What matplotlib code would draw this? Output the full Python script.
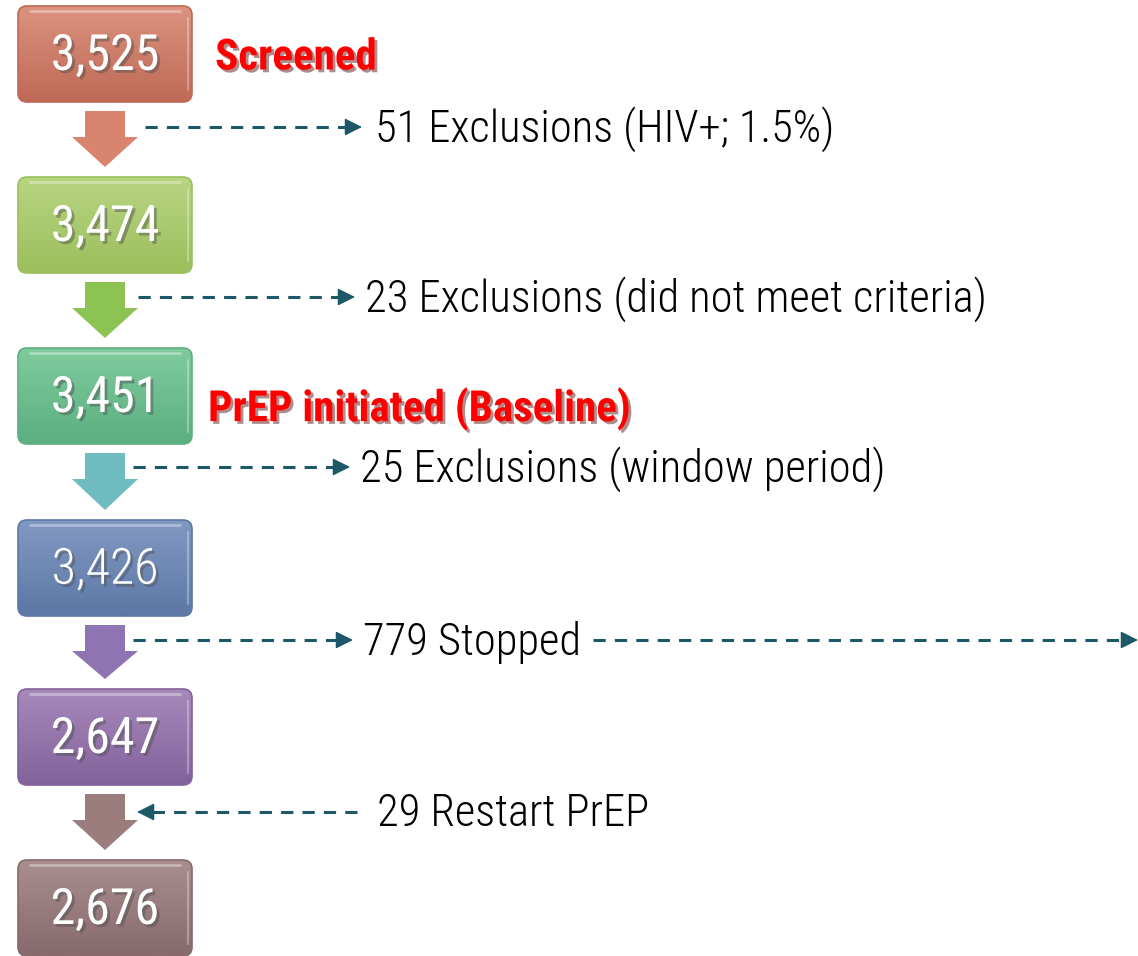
import numpy as np
import matplotlib
matplotlib.use("Agg")
import matplotlib.pyplot as plt
import matplotlib.patheffects as pe
from matplotlib.patches import FancyBboxPatch, Polygon
from matplotlib.colors import to_rgb

# data ---------------------------------------------------------------------------
counts = ["3,525", "3,474", "3,451", "3,426", "2,647", "2,676"]
stage_labels = {0: "Screened", 2: "PrEP initiated (Baseline)"}
flow_texts = ["51 Exclusions (HIV+; 1.5%)",
              "23 Exclusions (did not meet criteria)",
              "25 Exclusions (window period)",
              "779 Stopped",
              "29 Restart PrEP"]
flow_out = [True, True, True, True, False]   # False -> arrow points back into the flow

# colours ------------------------------------------------------------------------
box_top = ["#DB937F", "#B8D582", "#80CB9E", "#8198C2", "#A889BB", "#A98D8F"]
box_bot = ["#BF6955", "#9BBF5C", "#5BAF80", "#5D78A6", "#82629A", "#876A6D"]
arrow_cols = ["#D8846E", "#8DC352", "#6FBCC0", "#8E74B3", "#9C7D7E"]
dash_col = "#1C5868"

font = ["Roboto Condensed", "Pathway Gothic One", "DejaVu Sans"]

fig = plt.figure(figsize=(11.38, 9.56), dpi=100)
ax = fig.add_axes([0, 0, 1, 1])
ax.set_xlim(0, 1138)
ax.set_ylim(956, 0)
ax.axis("off")

box_x, box_w, box_h = 18, 174, 96
box_y = [6, 177, 348, 520, 689, 860]

shadow = [pe.SimplePatchShadow(offset=(2, -2), alpha=0.45), pe.Normal()]

for i, val in enumerate(counts):
    y0 = box_y[i]
    patch = FancyBboxPatch((box_x, y0), box_w, box_h,
                           boxstyle="round,pad=0,rounding_size=9",
                           facecolor="none", edgecolor=box_bot[i], lw=1.2, zorder=2)
    ax.add_patch(patch)
    t = np.linspace(0, 1, 64)[:, None]
    c0, c1 = np.array(to_rgb(box_top[i])), np.array(to_rgb(box_bot[i]))
    grad = (c0 * (1 - t) + c1 * t)[:, None, :].repeat(2, axis=1)
    im = ax.imshow(grad, extent=(box_x, box_x + box_w, y0 + box_h, y0),
                   origin="upper", aspect="auto", zorder=1, interpolation="bilinear")
    im.set_clip_path(patch)
    # light gloss lines (top and right edge)
    ax.plot([box_x + 12, box_x + box_w - 12], [y0 + 5, y0 + 5],
            color="white", alpha=0.35, lw=2, zorder=3, solid_capstyle="round")
    ax.plot([box_x + box_w - 4, box_x + box_w - 4], [y0 + 12, y0 + box_h - 12],
            color="white", alpha=0.3, lw=1.5, zorder=3, solid_capstyle="round")
    ax.text(box_x + box_w / 2, y0 + box_h / 2 + 2, val, color="white",
            fontsize=36, family=font, weight="light" if i == 3 else "normal",
            ha="center", va="center", zorder=4, path_effects=shadow)

for i, lab in stage_labels.items():
    ax.text(box_x + box_w + 23 - (7 if i == 2 else 0), box_y[i] + (52 if i == 0 else 61), lab,
            color="#FF0000", fontsize=31, family=font, weight="semibold",
            ha="left", va="center", zorder=4, path_effects=shadow)

# block arrows between boxes
for i, col in enumerate(arrow_cols):
    top = box_y[i] + box_h + 9
    tip = box_y[i + 1] - 10
    base = top + 26
    pts = [(85, top), (125, top), (125, base), (138, base),
           (105, tip), (72, base), (85, base)]
    ax.add_patch(Polygon(pts, closed=True, facecolor=col, edgecolor="none", zorder=2))


def dashed_arrow(xs, xe, y):
    # dashed shaft, then a solid filled head at xe
    d = 1 if xe > xs else -1
    ax.plot([xs, xe - d * 10], [y, y], color=dash_col, lw=2.2,
            linestyle=(0, (4, 3)), zorder=2)
    ax.annotate("", xy=(xe, y), xytext=(xe - d * 12, y),
                arrowprops=dict(arrowstyle="-|>,head_length=0.6,head_width=0.3",
                                color=dash_col, lw=1, shrinkA=0, shrinkB=0,
                                mutation_scale=18))


# dashed connector arrows and texts
row_y = [127, 297, 467, 640, 812]
line_x0 = [145, 138, 133, 133, 137]
line_x1 = [362, 355, 350, 353, 357]
text_x = [375, 365, 360, 363, 377]

for i, txt in enumerate(flow_texts):
    y = row_y[i]
    if flow_out[i]:
        dashed_arrow(line_x0[i], line_x1[i], y)
    else:
        dashed_arrow(line_x1[i], line_x0[i], y)
    ax.text(text_x[i], y + 2, txt, fontsize=32, family=font, weight="light",
            color="black", ha="left", va="center")

# "779 Stopped" continues off to the right
dashed_arrow(593, 1138, row_y[3])

fig.savefig("out.png", dpi=100)
